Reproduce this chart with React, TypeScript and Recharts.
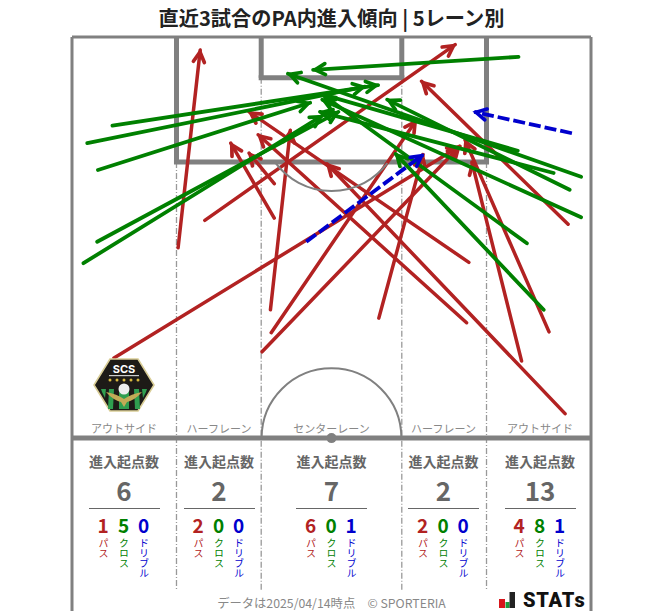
import { ComposedChart, Line, ReferenceDot, ReferenceLine, XAxis, YAxis } from "recharts";

// arrows in pitch metres: [fromX, fromY, toX, toY], x from pitch centre, y from goal line
const passArrows = [
  [-28.5, 42.0, 16.8, 14.3],
  [-20.1, 27.6, -17.2, 1.7],
  [-16.6, 24.0, 16.2, 1.0],
  [-8.0, 35.7, -5.4, 12.2],
  [-7.9, 38.7, 11.1, 10.9],
  [-9.1, 41.2, 16.8, 14.3],
  [6.2, 36.8, 12.0, 15.4],
  [-7.5, 23.7, -13.2, 13.9],
  [-7.5, 19.2, -10.8, 15.2],
  [18.0, 29.5, -10.8, 9.8],
  [17.7, 37.4, -9.6, 12.8],
  [30.6, 49.3, -0.6, 16.6],
  [31.0, 24.5, 11.8, 5.8],
  [24.9, 42.4, 18.4, 16.4],
  [28.5, 38.6, 17.5, 13.5],
];
const crossArrows = [
  [-28.7, 11.6, 6.1, 6.3],
  [-32.0, 13.9, 4.4, 6.5],
  [-30.6, 17.4, -2.8, 8.6],
  [-30.7, 26.8, 0.9, 9.8],
  [-32.5, 29.6, -1.2, 10.3],
  [24.5, 2.6, -2.4, 4.3],
  [32.7, 18.3, -5.7, 4.8],
  [24.4, 14.9, -1.2, 7.5],
  [29.1, 17.8, -1.5, 9.8],
  [31.2, 20.0, 7.3, 8.2],
  [32.7, 23.6, -1.2, 8.2],
  [25.6, 27.0, -1.1, 7.6],
  [27.8, 35.7, 8.4, 15.3],
];
const dribbleArrows = [
  [31.5, 12.6, 18.7, 9.8],
  [-3.3, 26.8, 12.0, 15.4],
];

const laneNames = ["アウトサイド", "ハーフレーン", "センターレーン", "ハーフレーン", "アウトサイド"];
const laneTotals = [6, 2, 7, 2, 13];
const lanePasses = [1, 2, 6, 2, 4];
const laneCrosses = [5, 0, 0, 0, 8];
const laneDribbles = [0, 0, 1, 0, 1];
const laneCentres = [124, 219, 331.5, 443.5, 540];

const RED = "#b22222";
const GREEN = "#008000";
const BLUE = "#0000cd";
const GREY = "#808080";
const TEXT_GREY = "#666666";
const FONT = '"Noto Sans CJK JP", "Noto Sans", sans-serif';
const PX_PER_M = 7.64;
const PA_X = 20.31;
const PA_Y = 16.35;
const GA_X = 9.21;
const GA_Y = 5.35;

const toPoints = (a: number[]) => [
  { x: a[0], y: a[1] },
  { x: a[2], y: a[3] },
];

function Head({ id, color }: { id: string; color: string }) {
  return (
    <marker id={id} markerUnits="userSpaceOnUse" markerWidth="30" markerHeight="30" refX="17" refY="15" orient="auto" overflow="visible">
      <path d="M5,9.5 L15,15 L5,20.5" fill="none" stroke={color} strokeWidth={3.7} strokeLinecap="round" strokeLinejoin="miter" />
    </marker>
  );
}

// half circle / arc drawn around a reference dot
function Arc({ cx, cy, from, to }: any) {
  const r = 9.15 * PX_PER_M;
  const a = (from * Math.PI) / 180;
  const b = (to * Math.PI) / 180;
  return (
    <path
      d={`M${cx + r * Math.cos(a)},${cy + r * Math.sin(a)} A${r},${r} 0 0 ${to > from ? 1 : 0} ${cx + r * Math.cos(b)},${cy + r * Math.sin(b)}`}
      fill="none"
      stroke={GREY}
      strokeWidth={2}
    />
  );
}

function Crest() {
  return (
    <svg width={62} height={54} viewBox="0 0 62 54" style={{ position: "absolute", left: 93, top: 358 }}>
      <path d="M17,1 H45 L61,27 L45,53 H17 L1,27 Z" fill="#1d1a17" stroke="#d9cd96" strokeWidth={1.6} />
      <path d="M8,31 H13 L12,40 L9,34 Z" fill="#2f9e4f" />
      <path d="M16,31 H21 L20,51 H15 Z" fill="#2f9e4f" />
      <path d="M26,31 H36 V51 H26 Z" fill="#2f9e4f" />
      <path d="M41,31 H46 L47,51 H42 Z" fill="#2f9e4f" />
      <path d="M49,31 H54 L53,34 L50,40 Z" fill="#2f9e4f" />
      <path d="M13,34 Q24,36 31,41 Q38,36 49,34 Q42,42 34,44 L31,49 L28,44 Q20,42 13,34 Z" fill="#c2ab56" />
      <circle cx={31} cy={31} r={5.5} fill="#eeeeee" />
      <text x={31} y={15} textAnchor="middle" fontSize={11} fontWeight={700} fill="#ffffff" fontFamily="Inter, sans-serif">SCS</text>
      <rect x={16} y={17} width={30} height={1.2} fill="#cccccc" />
      {[17, 24, 31, 38, 45].map((x) => (
        <circle key={x} cx={x} cy={22} r={1.5} fill="#d9b93e" />
      ))}
    </svg>
  );
}

function StatsLogo() {
  return (
    <div style={{ position: "absolute", left: 498, top: 590, width: 92, height: 20 }}>
      <svg width={20} height={20} style={{ position: "absolute", left: 0, top: 0 }}>
        <rect x={1} y={9} width={6} height={9} fill="#d8161c" />
        <rect x={7.5} y={12} width={4} height={6} fill="#1f9a3c" />
        <rect x={11.5} y={2} width={5.5} height={16} fill="#222222" />
      </svg>
      <div style={{ position: "absolute", left: 25, top: -3, fontFamily: "Roboto, sans-serif", fontWeight: 900, fontSize: 20, letterSpacing: 0.8, color: "#111111", lineHeight: "26px" }}>
        STATs
      </div>
    </div>
  );
}

const abs = (left: number, top: number, extra: any) => ({
  position: "absolute" as const,
  left,
  top,
  fontFamily: FONT,
  whiteSpace: "nowrap" as const,
  ...extra,
});

function LaneStats({ i }: { i: number }) {
  const c = laneCentres[i];
  const cols = [
    { value: lanePasses[i], label: "パス", color: RED, dx: -21 },
    { value: laneCrosses[i], label: "クロス", color: GREEN, dx: -0.5 },
    { value: laneDribbles[i], label: "ドリブル", color: BLUE, dx: 19.5 },
  ];
  return (
    <>
      <div style={abs(c - 60, 420, { width: 120, textAlign: "center", fontSize: 11, color: "#888888", lineHeight: "16px" })}>{laneNames[i]}</div>
      <div style={abs(c - 60, 451, { width: 120, textAlign: "center", fontSize: 14, fontWeight: 700, color: TEXT_GREY, lineHeight: "20px" })}>進入起点数</div>
      <div style={abs(c - 40, 473, { width: 80, textAlign: "center", fontSize: 26, fontWeight: 700, color: TEXT_GREY, lineHeight: "34px" })}>{laneTotals[i]}</div>
      <div style={{ position: "absolute", left: c - 35.5, top: 508, width: 71, height: 1, background: TEXT_GREY }} />
      {cols.map((col) => (
        <div key={col.label}>
          <div style={abs(c + col.dx - 15, 512, { width: 30, textAlign: "center", fontSize: 19, fontWeight: 700, color: col.color, lineHeight: "26px" })}>{col.value}</div>
          <div style={abs(c + col.dx - 8, 538, { width: 16, writingMode: "vertical-rl", fontSize: 10, color: col.color, lineHeight: "16px" })}>{col.label}</div>
        </div>
      ))}
    </>
  );
}

export default function App() {
  return (
    <div style={{ position: "absolute", left: 0, top: 0, width: 663, height: 611, overflow: "hidden", background: "#fff" }}>
      <div style={abs(0, 4, { width: 663, textAlign: "center", fontSize: 20.2, fontWeight: 700, color: "#222222", lineHeight: "28px" })}>
        直近3試合のPA内進入傾向 | 5レーン別
      </div>
      <div style={{ position: "absolute", left: 0, top: 0 }}>
        <ComposedChart width={663} height={611} margin={{ top: 37, right: 72, bottom: 0, left: 72 }}>
          <defs>
            <Head id="headRed" color={RED} />
            <Head id="headGreen" color={GREEN} />
            <Head id="headBlue" color={BLUE} />
          </defs>
          <XAxis hide type="number" dataKey="x" domain={[-34, 34]} allowDataOverflow />
          <YAxis hide type="number" dataKey="y" domain={[0, 75.13]} reversed allowDataOverflow />

          {/* lane dividers */}
          {[-PA_X, PA_X].map((x) => (
            <ReferenceLine key={x} segment={[{ x, y: PA_Y }, { x, y: 72.5 }]} stroke="#999999" strokeWidth={1.3} strokeDasharray="6 2 1 2" />
          ))}
          {[-GA_X, GA_X].map((x) => (
            <ReferenceLine key={x} segment={[{ x, y: GA_Y }, { x, y: 72.5 }]} stroke="#999999" strokeWidth={1.3} strokeDasharray="6 2 1 2" />
          ))}

          {/* pitch */}
          <ReferenceLine segment={[{ x: -34, y: 0 }, { x: 34, y: 0 }]} stroke={GREY} strokeWidth={3} />
          <ReferenceLine segment={[{ x: -34, y: 0 }, { x: -34, y: 75.13 }]} stroke={GREY} strokeWidth={3} />
          <ReferenceLine segment={[{ x: 34, y: 0 }, { x: 34, y: 75.13 }]} stroke={GREY} strokeWidth={3} />
          <ReferenceLine segment={[{ x: -34, y: 52.5 }, { x: 34, y: 52.5 }]} stroke={GREY} strokeWidth={5} />
          <ReferenceLine segment={[{ x: -PA_X, y: 0 }, { x: -PA_X, y: PA_Y }]} stroke={GREY} strokeWidth={5} />
          <ReferenceLine segment={[{ x: PA_X, y: 0 }, { x: PA_X, y: PA_Y }]} stroke={GREY} strokeWidth={5} />
          <ReferenceLine segment={[{ x: -PA_X - 0.33, y: PA_Y }, { x: PA_X + 0.33, y: PA_Y }]} stroke={GREY} strokeWidth={5} />
          <ReferenceLine segment={[{ x: -GA_X, y: 0 }, { x: -GA_X, y: GA_Y }]} stroke={GREY} strokeWidth={5} />
          <ReferenceLine segment={[{ x: GA_X, y: 0 }, { x: GA_X, y: GA_Y }]} stroke={GREY} strokeWidth={5} />
          <ReferenceLine segment={[{ x: -GA_X - 0.33, y: GA_Y }, { x: GA_X + 0.33, y: GA_Y }]} stroke={GREY} strokeWidth={5} />
          <ReferenceDot x={0} y={11} r={0} shape={(p: any) => <Arc cx={p.cx} cy={p.cy} from={143} to={37} />} />
          <ReferenceDot x={0} y={52.5} r={0} shape={(p: any) => <Arc cx={p.cx} cy={p.cy} from={180} to={360} />} />
          <ReferenceDot x={0} y={52.5} r={5} fill={GREY} stroke="none" />

          {passArrows.map((a, i) => (
            <Line key={`p${i}`} data={toPoints(a)} dataKey="y" stroke={RED} strokeWidth={3.5} strokeLinecap="round" dot={false} activeDot={false} isAnimationActive={false} markerEnd="url(#headRed)" />
          ))}
          {crossArrows.map((a, i) => (
            <Line key={`c${i}`} data={toPoints(a)} dataKey="y" stroke={GREEN} strokeWidth={3.8} strokeLinecap="round" dot={false} activeDot={false} isAnimationActive={false} markerEnd="url(#headGreen)" />
          ))}
          {dribbleArrows.map((a, i) => (
            <Line key={`d${i}`} data={toPoints(a)} dataKey="y" stroke={BLUE} strokeWidth={3.8} strokeDasharray="12 4" dot={false} activeDot={false} isAnimationActive={false} markerEnd="url(#headBlue)" />
          ))}
        </ComposedChart>
      </div>
      <Crest />
      {laneNames.map((_, i) => (
        <LaneStats key={i} i={i} />
      ))}
      <div style={abs(0, 595, { width: 663, textAlign: "center", fontSize: 12.3, color: "#888888", lineHeight: "16px" })}>
        データは2025/04/14時点{"　"}© SPORTERIA
      </div>
      <StatsLogo />
    </div>
  );
}
